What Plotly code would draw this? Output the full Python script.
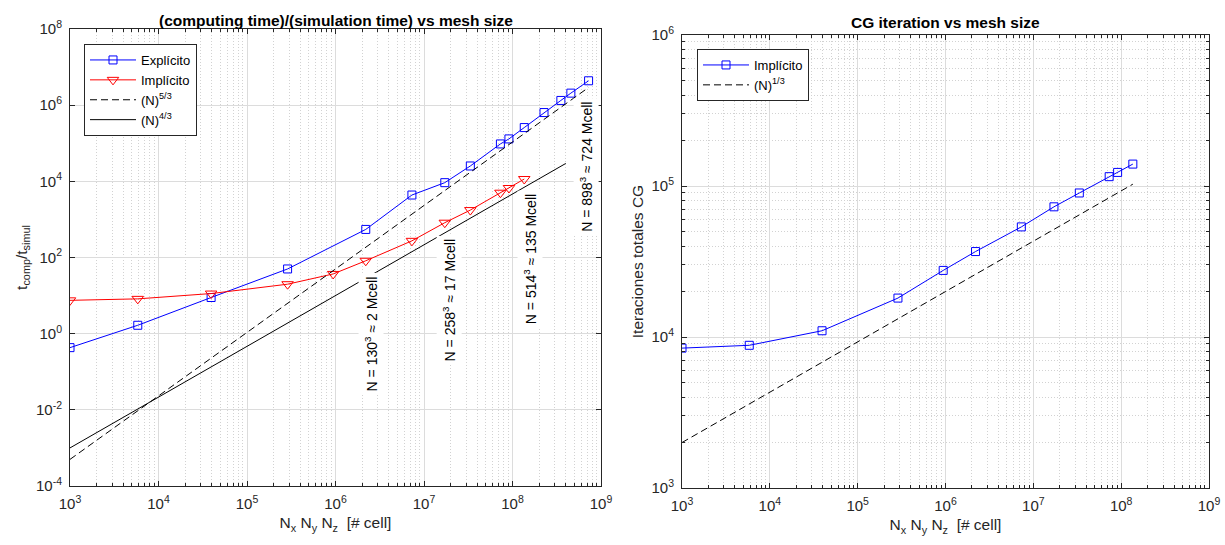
import numpy as np
import plotly.graph_objects as go

# ---- data ----
# left: computing time / simulation time
n_exp = [1e3, 5832, 39304, 287496, 2197000, 7301384, 17173512, 33386248,
         73034632, 91125000, 135796744, 226981000, 351895816, 456533000, 724150792]
t_exp = [0.43, 1.66, 8.9, 50, 546, 4370, 9230, 25300,
         96000, 130000, 258000, 640000, 1330000, 2070000, 4370000]

n_imp = [1e3, 5832, 39304, 287496, 941192, 2197000, 7301384, 17173512,
         33386248, 73034632, 91125000, 135796744]
t_imp = [7.5, 8.2, 11.3, 19.9, 37, 82, 274, 820, 1760, 5030, 6680, 11500]

ref53_n = [1e3, 724150792]
ref53_t = [5.0e-4, 2.92e6]
ref43_n = [1e3, 4e8]
ref43_t = [1.0e-3, 2.95e4]

# right: total CG iterations
cg_n = n_imp
cg_it = [8440, 8810, 11000, 18100, 27600, 36800, 53600, 72800,
         89900, 115300, 123000, 139700]
ref13_n = [1e3, 135796744]
ref13_it = [2000, 102800]

mesh_labels = ["N = 130<sup>3</sup> \u2248 2 Mcell", "N = 258<sup>3</sup> \u2248 17 Mcell",
               "N = 514<sup>3</sup> \u2248 135 Mcell", "N = 898<sup>3</sup> \u2248 724 Mcell"]
mesh_label_n = [2.5e6, 1.93e7, 1.58e8, 6.76e8]
mesh_label_t = [1.0, 7.6, 91, 24000]

FONT = "Liberation Sans, Arial, sans-serif"
AX = "#262626"

fig = go.Figure()

fig.add_trace(go.Scatter(x=n_exp, y=t_exp, mode="lines+markers", name="Explícito",
                         line=dict(color="#0000ff", width=1),
                         marker=dict(symbol="square-open", size=8, color="#0000ff", line=dict(width=1)),
                         legend="legend"))
fig.add_trace(go.Scatter(x=n_imp, y=t_imp, mode="lines+markers", name="Implícito",
                         line=dict(color="#ff0000", width=1),
                         marker=dict(symbol="triangle-down-open", size=10, color="#ff0000", line=dict(width=1)),
                         legend="legend"))
fig.add_trace(go.Scatter(x=ref53_n, y=ref53_t, mode="lines", name="(N)<sup>5/3</sup>",
                         line=dict(color="black", width=1, dash="7px,4px"), legend="legend"))
fig.add_trace(go.Scatter(x=ref43_n, y=ref43_t, mode="lines", name="(N)<sup>4/3</sup>",
                         line=dict(color="black", width=1), legend="legend"))

fig.add_trace(go.Scatter(x=cg_n, y=cg_it, mode="lines+markers", name="Implícito",
                         line=dict(color="#0000ff", width=1),
                         marker=dict(symbol="square-open", size=8, color="#0000ff", line=dict(width=1)),
                         xaxis="x2", yaxis="y2", legend="legend2"))
fig.add_trace(go.Scatter(x=ref13_n, y=ref13_it, mode="lines", name="(N)<sup>1/3</sup>",
                         line=dict(color="black", width=1, dash="7px,4px"),
                         xaxis="x2", yaxis="y2", legend="legend2"))


def sup(e):
    return "10<sup>%d</sup>" % e


def minor_vals(lo, hi):
    return [k * 10.0 ** e for e in range(lo, hi) for k in range(2, 10)]


common = dict(type="log", showline=True, linecolor=AX, linewidth=1, mirror="allticks",
              ticks="inside", ticklen=5, tickcolor=AX, showgrid=True, gridcolor="#dcdcdc",
              gridwidth=1, zeroline=False, tickfont=dict(family=FONT, size=15, color=AX),
              tickmode="array", automargin=False, ticklabelstandoff=4)
minor_on = dict(ticks="inside", ticklen=3, tickcolor=AX, showgrid=True,
                gridcolor="#d2d2d2", griddash="1px,2px", tickmode="array")
title_font = dict(family=FONT, size=15.5, color=AX)
legend_style = dict(xanchor="left", yanchor="top", bgcolor="white", bordercolor=AX,
                    borderwidth=1, itemwidth=46, font=dict(family=FONT, size=13, color="black"))

xt = list(range(3, 10))
xlabel = "N<sub>x</sub> N<sub>y</sub> N<sub>z</sub> &nbsp;[# cell]"
fig.update_layout(
    xaxis=dict(common, domain=[70 / 1225, 601 / 1225], range=[3, 9],
               tickvals=[10.0 ** e for e in xt], ticktext=[sup(e) for e in xt],
               minor=dict(minor_on, tickvals=minor_vals(3, 9)),
               title=dict(text=xlabel, font=title_font, standoff=6)),
    yaxis=dict(common, domain=[59 / 545, 516 / 545], range=[-4, 8],
               tickvals=[10.0 ** e for e in range(-4, 9, 2)],
               ticktext=[sup(e) for e in range(-4, 9, 2)],
               title=dict(text="t<sub>comp</sub>/t<sub>simul</sub>", font=title_font, standoff=4)),
    xaxis2=dict(common, domain=[682 / 1225, 1209 / 1225], range=[3, 9], anchor="y2",
                tickvals=[10.0 ** e for e in xt], ticktext=[sup(e) for e in xt],
                minor=dict(minor_on, tickvals=minor_vals(3, 9)),
                title=dict(text=xlabel, font=title_font, standoff=6)),
    yaxis2=dict(common, domain=[57 / 545, 510 / 545], range=[3, 6], anchor="x2",
                tickvals=[10.0 ** e for e in range(3, 7)], ticktext=[sup(e) for e in range(3, 7)],
                minor=dict(minor_on, tickvals=minor_vals(3, 6)),
                title=dict(text="Iteraciones totales CG", font=title_font, standoff=4)),
    legend=dict(legend_style, x=84 / 1225, y=1 - 44 / 545),
    legend2=dict(legend_style, x=697 / 1225, y=1 - 49 / 545),
    width=1225, height=545, margin=dict(l=0, r=0, t=0, b=0),
    plot_bgcolor="white", paper_bgcolor="white", showlegend=True,
    font=dict(family=FONT, color=AX),
)

annotations = [
    dict(text="<b>(computing time)/(simulation time) vs mesh size</b>", xref="paper", yref="paper",
         x=335.5 / 1225, y=1 - 20 / 545, showarrow=False, xanchor="center", yanchor="middle",
         font=dict(family=FONT, size=15.5, color="black")),
    dict(text="<b>CG iteration vs mesh size</b>", xref="paper", yref="paper",
         x=945.5 / 1225, y=1 - 22 / 545, showarrow=False, xanchor="center", yanchor="middle",
         font=dict(family=FONT, size=15.5, color="black")),
]
for txt, n, t in zip(mesh_labels, mesh_label_n, mesh_label_t):
    annotations.append(dict(text=txt, x=np.log10(n), y=np.log10(t), xref="x", yref="y",
                            showarrow=False, textangle=-90, bgcolor="white", borderpad=3,
                            xanchor="center", yanchor="middle",
                            font=dict(family=FONT, size=14, color="black")))
fig.update_layout(annotations=annotations)

# page body has an 8px default margin; drop it so the figure sits at the window origin
fig.write_html("out.html", config={"displayModeBar": False},
               post_script="document.body.style.margin='0';")
